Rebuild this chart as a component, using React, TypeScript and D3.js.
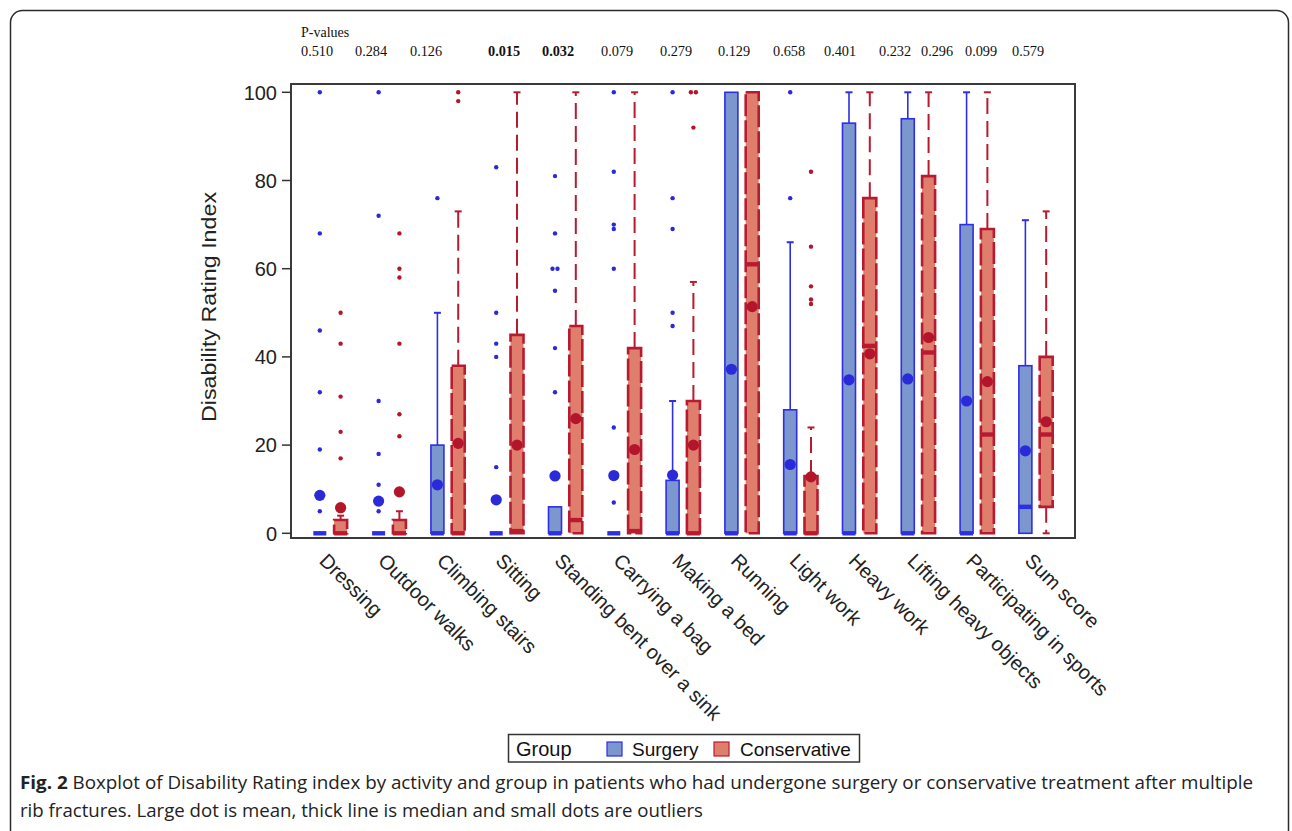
import React from "react";
import * as d3 from "d3";

const categories = [
  "Dressing",
  "Outdoor walks",
  "Climbing stairs",
  "Sitting",
  "Standing bent over a sink",
  "Carrying a bag",
  "Making a bed",
  "Running",
  "Light work",
  "Heavy work",
  "Lifting heavy objects",
  "Participating in sports",
  "Sum score",
];
const groups = ["Surgery", "Conservative"];

const pValues = ["0.510", "0.284", "0.126", "0.015", "0.032", "0.079", "0.279", "0.129", "0.658", "0.401", "0.232", "0.296", "0.099", "0.579"];
const pValueBold = [false, false, false, true, true, false, false, false, false, false, false, false, false, false];
const pValueX = [301, 355, 410, 488, 542, 601, 660, 718, 773, 824, 879, 921, 965, 1012];

const yTicks = [0, 20, 40, 60, 80, 100];

// Surgery group
const surgeryLow = [0, 0, 0, 0, 0, 0, 0, 0, 0, 0, 0, 0, 0];
const surgeryQ1 = [0, 0, 0, 0, 0, 0, 0, 0, 0, 0, 0, 0, 0];
const surgeryMedian = [0, 0, 0, 0, 0, 0, 0, 0, 0, 0, 0, 0, 6];
const surgeryQ3 = [0, 0, 20, 0, 6, 0, 12, 100, 28, 93, 94, 70, 38];
const surgeryHigh = [0, 0, 50, 0, 6, 0, 30, 100, 66, 100, 100, 100, 71];
const surgeryMean = [8.6, 7.3, 11, 7.6, 13, 13.1, 13.2, 37.2, 15.6, 34.8, 35, 30, 18.7];
const surgeryOutliers = [
  [100, 68, 46, 32, 19, 5],
  [100, 72, 30, 18, 11, 5],
  [76],
  [83, 50, 43, 40, 15],
  [81, 68, 60, 60, 55, 42, 32],
  [100, 82, 70, 69, 60, 24, 7],
  [100, 76, 69, 50, 47],
  [],
  [100, 76],
  [],
  [],
  [],
  [],
];

// Conservative group
const consLow = [0, 0, 0, 0, 0, 0, 0, 0, 0, 0, 0, 0, 0];
const consQ1 = [0, 0, 0, 0, 0, 0, 0, 0, 0, 0, 0, 0, 6];
const consMedian = [0, 0, 0, 0.5, 3, 0.5, 0, 61, 0, 42.5, 41, 22.4, 22.4];
const consQ3 = [3, 3, 38, 45, 47, 42, 30, 100, 13, 76, 81, 69, 40];
const consHigh = [4, 5, 73, 100, 100, 100, 57, 100, 24, 100, 100, 100, 73];
const consMean = [5.8, 9.4, 20.4, 20, 26, 19, 20, 51.4, 12.8, 40.7, 44.4, 34.4, 25.3];
const consOutliers = [
  [50, 43, 31, 23, 17],
  [68, 60, 58, 43, 27, 22],
  [100, 98],
  [],
  [],
  [],
  [100, 100, 92],
  [],
  [82, 65, 56, 53, 52],
  [],
  [],
  [],
  [],
];

const W = 1292;
const H = 831;
const plot = { left: 291, right: 1075, top: 84, bottom: 538 };

const styles = {
  Surgery: { fill: "#7b97cd", stroke: "#2e2ee3", boxDash: undefined as string | undefined, whiskerDash: undefined as string | undefined, dot: "#2a2ad8", whiskerW: 1.6, boxW: 1.6 },
  Conservative: { fill: "#e07e6d", stroke: "#b81b30", boxDash: "22 4", whiskerDash: "16 7", dot: "#b3152b", whiskerW: 2, boxW: 2.6 },
};

const sans = "'Liberation Sans', Arial, Helvetica, sans-serif";
const serif = "'Liberation Serif', 'Times New Roman', serif";
const capFont = "'Open Sans', 'Noto Sans', sans-serif";

export default function App() {
  const y = d3.scaleLinear().domain([0, 100]).range([533.3, 92.3]);
  const x = d3.scalePoint<string>().domain(categories).range([plot.left, plot.right]).padding(0.667);
  const gx = d3.scalePoint<string>().domain(groups).range([-10.4, 10.4]);
  const boxW = 13;

  const series = [
    { g: "Surgery", low: surgeryLow, q1: surgeryQ1, med: surgeryMedian, q3: surgeryQ3, high: surgeryHigh, mean: surgeryMean, out: surgeryOutliers },
    { g: "Conservative", low: consLow, q1: consQ1, med: consMedian, q3: consQ3, high: consHigh, mean: consMean, out: consOutliers },
  ];

  const boxes: React.ReactNode[] = [];
  series.forEach((s) => {
    const st = (styles as any)[s.g];
    categories.forEach((c, i) => {
      const cx = (x(c) as number) + (gx(s.g) as number);
      const key = `${s.g}-${i}`;
      const els: React.ReactNode[] = [];
      if (s.high[i] > s.q3[i]) {
        els.push(
          <line key="wu" x1={cx} x2={cx} y1={y(s.q3[i])} y2={y(s.high[i])} stroke={st.stroke} strokeWidth={st.whiskerW} strokeDasharray={st.whiskerDash} />
        );
        els.push(<line key="cu" x1={cx - 3.5} x2={cx + 3.5} y1={y(s.high[i])} y2={y(s.high[i])} stroke={st.stroke} strokeWidth={2} />);
      }
      if (s.low[i] < s.q1[i]) {
        els.push(
          <line key="wl" x1={cx} x2={cx} y1={y(s.q1[i])} y2={y(s.low[i])} stroke={st.stroke} strokeWidth={st.whiskerW} strokeDasharray={st.whiskerDash} />
        );
        els.push(<line key="cl" x1={cx - 3.5} x2={cx + 3.5} y1={y(s.low[i])} y2={y(s.low[i])} stroke={st.stroke} strokeWidth={2} />);
      }
      if (s.q3[i] > s.q1[i]) {
        els.push(
          <rect key="box" x={cx - boxW / 2} y={y(s.q3[i])} width={boxW} height={y(s.q1[i]) - y(s.q3[i])} fill={st.fill} stroke={st.stroke} strokeWidth={st.boxW} strokeDasharray={st.boxDash} />
        );
      }
      els.push(<rect key="med" x={cx - boxW / 2} y={y(s.med[i]) - 2.2} width={boxW} height={4.4} fill={st.stroke} />);
      els.push(<circle key="mean" cx={cx} cy={y(s.mean[i])} r={5.6} fill={st.dot} />);
      const counts: Record<number, number> = {};
      s.out[i].forEach((v) => (counts[v] = (counts[v] || 0) + 1));
      const seen: Record<number, number> = {};
      s.out[i].forEach((v, k) => {
        const n = counts[v];
        const idx = seen[v] || 0;
        seen[v] = idx + 1;
        const off = (idx - (n - 1) / 2) * 5;
        els.push(<circle key={`o${k}`} cx={cx + off} cy={y(v)} r={2.2} fill={st.dot} />);
      });
      boxes.push(<g key={key}>{els}</g>);
    });
  });

  return (
    <svg width={W} height={H} style={{ position: "absolute", left: 0, top: 0, background: "#fff" }}>
      <rect x={0} y={0} width={W} height={H} fill="#fff" />
      <rect x={10.5} y={10.5} width={1278} height={880} rx={12} ry={12} fill="none" stroke="#2b2b2b" strokeWidth={1.5} />

      <text x={301} y={36.5} fontFamily={serif} fontSize={14} fill="#111">P-values</text>
      {pValues.map((p, i) => (
        <text key={p + i} x={pValueX[i]} y={55.5} fontFamily={serif} fontSize={14.3} fontWeight={pValueBold[i] ? "bold" : "normal"} fill="#111">
          {p}
        </text>
      ))}

      <rect x={plot.left} y={plot.top} width={plot.right - plot.left} height={plot.bottom - plot.top} fill="#fff" stroke="#3a3a3a" strokeWidth={2} />

      {yTicks.map((t) => (
        <g key={t}>
          <line x1={plot.left - 9} x2={plot.left} y1={y(t)} y2={y(t)} stroke="#333" strokeWidth={1.5} />
          <text x={277} y={y(t)} dy="0.36em" textAnchor="end" fontFamily={sans} fontSize={20} fill="#222">
            {t}
          </text>
        </g>
      ))}
      <text transform={`translate(216, ${307}) rotate(-90)`} textAnchor="middle" fontFamily={sans} fontSize={21} fill="#222" textLength={230} lengthAdjust="spacingAndGlyphs">
        Disability Rating Index
      </text>

      {boxes}

      {categories.map((c) => (
        <text key={c} transform={`translate(${(x(c) as number) - 12}, 562) rotate(45)`} fontFamily={sans} fontSize={20} fill="#222">
          {c}
        </text>
      ))}

      <rect x={508.5} y={734.5} width={351} height={27.5} fill="#fff" stroke="#333" strokeWidth={1.5} />
      <text x={516} y={755.5} fontFamily={sans} fontSize={20} fill="#111">Group</text>
      <rect x={607} y={742} width={15} height={14} fill={styles.Surgery.fill} stroke={styles.Surgery.stroke} strokeWidth={1.2} />
      <text x={632} y={755.5} fontFamily={sans} fontSize={19} fill="#111">Surgery</text>
      <rect x={714} y={742} width={15} height={14} fill={styles.Conservative.fill} stroke={styles.Conservative.stroke} strokeWidth={1.2} />
      <text x={740} y={755.5} fontFamily={sans} fontSize={19} fill="#111">Conservative</text>

      <text x={20} y={789} fontFamily={capFont} fontSize={17.5} fill="#222" textLength={1233} lengthAdjust="spacingAndGlyphs">
        <tspan fontWeight="bold">Fig. 2</tspan> Boxplot of Disability Rating index by activity and group in patients who had undergone surgery or conservative treatment after multiple
      </text>
      <text x={20} y={817} fontFamily={capFont} fontSize={17.5} fill="#222" textLength={683} lengthAdjust="spacingAndGlyphs">
        rib fractures. Large dot is mean, thick line is median and small dots are outliers
      </text>
    </svg>
  );
}
